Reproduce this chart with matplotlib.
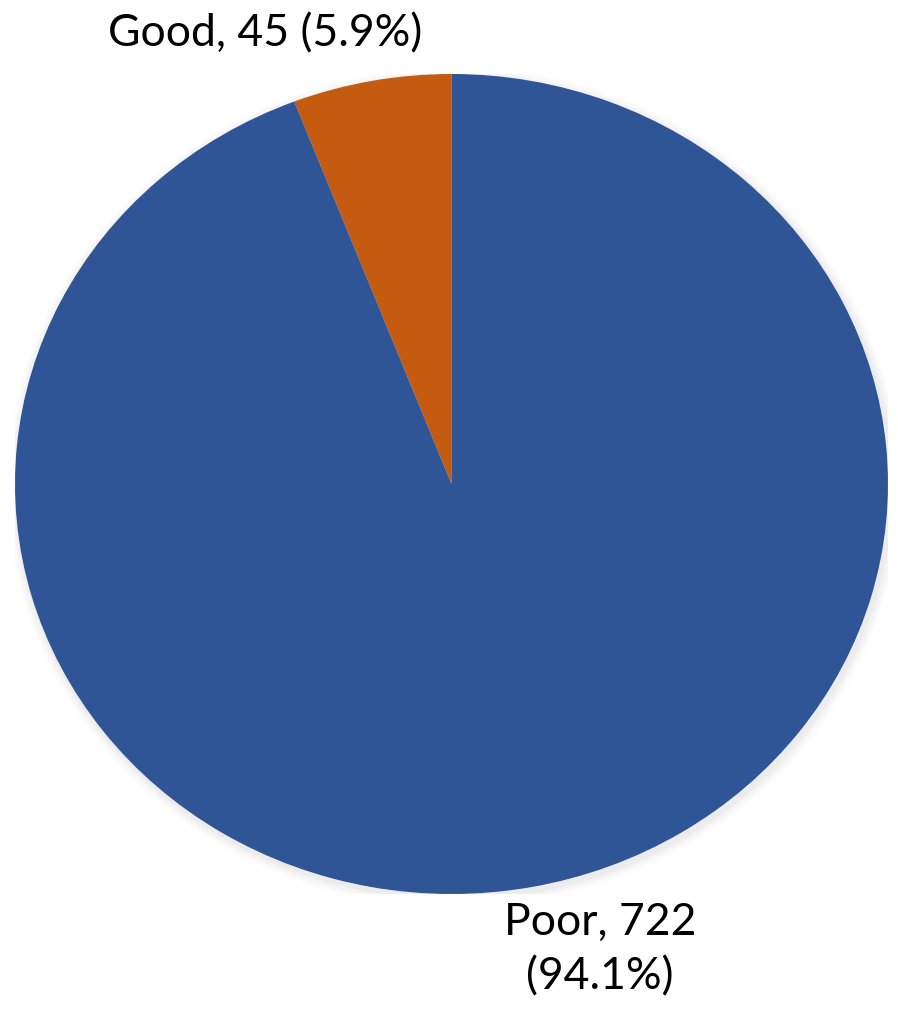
import matplotlib.pyplot as plt
from matplotlib.patches import Ellipse

# Data
categories = ['Good', 'Poor']
counts = [45, 722]
colors = ['#C55A11', '#2F5597']

total = sum(counts)
pcts = [100.0 * c / total for c in counts]

plt.rcParams['font.family'] = ['Lato', 'DejaVu Sans']

fig = plt.figure(figsize=(8.98, 10.12), dpi=100)
ax = fig.add_axes([15 / 898, (1012 - 895) / 1012, 873 / 898, 820 / 1012])

# soft shadow around the pie
for i, a in enumerate([0.05, 0.04, 0.03, 0.02]):
    s = 2.0 + 0.012 * (i + 1)
    ax.add_patch(Ellipse((0.005, -0.008), s, s, color='#808080', alpha=a,
                         lw=0, zorder=0))

ax.pie(counts, colors=colors, startangle=90, counterclock=True,
       wedgeprops=dict(linewidth=0))
ax.set_aspect('auto')
ax.set_xlim(-1, 1)
ax.set_ylim(-1, 1)
ax.axis('off')

fig.text(265 / 898, 1 - 34 / 1012,
         f'{categories[0]}, {counts[0]} ({pcts[0]:.1f}%)',
         ha='center', va='center', fontsize=32)
fig.text(600 / 898, 1 - 950 / 1012,
         f'{categories[1]}, {counts[1]}\n({pcts[1]:.1f}%)',
         ha='center', va='center', fontsize=32, linespacing=1.4)

fig.savefig('out.png', dpi=100)
